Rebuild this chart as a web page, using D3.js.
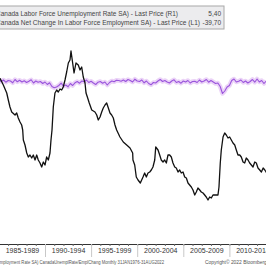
<!DOCTYPE html>
<html><head><meta charset="utf-8">
<script src="https://cdn.jsdelivr.net/npm/d3@7"></script>
<style>html,body{margin:0;padding:0;background:#fff;overflow:hidden}svg{display:block}</style>
</head><body>
<script>
// ---- data ----
const unempYears = [1985.12,1985.48,1985.85,1986.02,1986.20,1986.39,1986.75,1986.93,1987.10,1987.29,1987.47,1987.58,1987.65,1987.83,1988.02,1988.19,1988.37,1988.56,1988.73,1988.92,1989.10,1989.27,1989.46,1989.64,1989.82,1990.00,1990.18,1990.36,1990.54,1990.65,1990.76,1990.90,1991.08,1991.27,1991.44,1991.63,1991.81,1991.98,1992.17,1992.35,1992.53,1992.71,1992.82,1993.00,1993.15,1993.36,1993.61,1993.80,1993.98,1994.15,1994.34,1994.45,1994.63,1994.80,1995.07,1995.42,1995.61,1995.78,1995.97,1996.15,1996.32,1996.51,1996.69,1996.87,1997.05,1997.23,1997.41,1997.59,1997.77,1998.13,1998.49,1998.86,1999.22,1999.51,1999.54,1999.73,1999.90,2000.09,2000.34,2000.63,2000.81,2000.99,2001.17,2001.36,2001.53,2001.71,2001.90,2002.01,2002.26,2002.44,2002.61,2002.80,2002.98,2003.16,2003.34,2003.52,2003.70,2003.88,2004.07,2004.24,2004.43,2004.61,2004.78,2004.97,2005.15,2005.33,2005.51,2005.69,2005.87,2006.05,2006.24,2006.41,2006.59,2006.78,2006.95,2007.14,2007.32,2007.49,2007.68,2007.86,2008.04,2008.22,2008.41,2008.58,2008.76,2008.87,2009.01,2009.12,2009.31,2009.49,2009.66,2009.85,2010.03,2010.21,2010.39,2010.58,2010.75,2010.93,2011.12,2011.29,2011.48,2011.66,2011.83,2012.02,2012.20,2012.38,2012.56,2012.75,2012.92,2013.10,2013.29,2013.47,2013.66,2013.84,2013.98,2014.15];
const unempRate = [10.97,10.70,10.38,10.10,9.82,9.62,9.50,9.58,9.38,9.22,9.10,8.90,8.50,8.30,7.98,7.82,7.90,7.78,7.90,7.70,7.90,7.70,7.58,7.42,7.62,7.50,7.82,7.70,7.98,8.50,8.90,9.82,10.38,10.50,10.42,10.54,10.50,10.62,10.90,11.22,11.58,11.70,12.06,11.58,11.18,11.58,11.50,11.30,11.42,11.02,10.78,10.38,10.18,9.98,9.70,9.62,9.50,9.30,9.42,9.62,9.78,9.90,9.98,9.78,9.58,9.50,9.38,9.10,8.90,8.62,8.42,8.30,8.18,7.98,7.70,7.50,7.02,6.90,6.78,7.02,7.18,7.02,7.18,7.22,7.30,7.42,7.70,8.22,8.10,7.90,7.70,7.62,7.70,7.58,7.90,7.90,7.82,7.58,7.42,7.38,7.22,7.30,7.18,7.22,7.02,6.98,6.78,6.70,6.62,6.50,6.30,6.42,6.58,6.50,6.42,6.38,6.30,6.22,6.10,6.22,6.18,6.30,6.30,6.30,6.30,6.62,7.58,8.10,8.62,8.78,8.70,8.58,8.62,8.50,8.38,8.30,8.10,7.90,7.90,7.82,7.62,7.58,7.78,7.70,7.58,7.50,7.42,7.62,7.58,7.38,7.30,7.22,7.38,7.30,7.22,7.10];

const empYears = [1985.00,1985.25,1985.50,1985.75,1986.00,1986.25,1986.50,1986.75,1987.00,1987.25,1987.50,1987.75,1988.00,1988.25,1988.50,1988.75,1989.00,1989.25,1989.50,1989.75,1990.00,1990.25,1990.50,1990.75,1991.00,1991.25,1991.50,1991.75,1992.00,1992.25,1992.50,1992.75,1993.00,1993.25,1993.50,1993.75,1994.00,1994.25,1994.50,1994.75,1995.00,1995.25,1995.50,1995.75,1996.00,1996.25,1996.50,1996.75,1997.00,1997.25,1997.50,1997.75,1998.00,1998.25,1998.50,1998.75,1999.00,1999.25,1999.50,1999.75,2000.00,2000.25,2000.50,2000.75,2001.00,2001.25,2001.50,2001.75,2002.00,2002.25,2002.50,2002.75,2003.00,2003.25,2003.50,2003.75,2004.00,2004.25,2004.50,2004.75,2005.00,2005.25,2005.50,2005.75,2006.00,2006.25,2006.50,2006.75,2007.00,2007.25,2007.50,2007.75,2008.00,2008.25,2008.50,2008.75,2009.00,2009.25,2009.50,2009.75,2010.00,2010.25,2010.50,2010.75,2011.00,2011.25,2011.50,2011.75,2012.00,2012.25,2012.50,2012.75,2013.00,2013.25,2013.50,2013.75,2014.00];
const empChange = [45,25,40,18,35,30,12,45,22,38,20,32,15,28,42,10,30,18,25,5,20,-5,12,-25,-38,-30,-15,8,-22,-10,-28,5,-15,12,25,8,30,22,40,15,28,10,-5,18,25,8,20,-10,15,30,22,38,35,28,40,25,45,35,20,48,30,25,40,12,30,5,-8,15,10,30,45,25,35,20,10,30,42,15,25,8,30,20,35,10,25,28,15,40,20,30,45,18,35,20,5,10,-25,-95,-70,-30,-15,35,50,20,28,40,15,30,10,25,45,18,50,20,35,5,30,15];

const periodMid = [1987.5,1992.5,1997.5,2002.5,2007.5,2012.5];
const periodLabels = ["1985-1989","1990-1994","1995-1999","2000-2004","2005-2009","2010-2014"];
const majorYears = [1985,1990,1995,2000,2005,2010,2015];
const legendNames = ["Canada Labor Force Unemployment Rate SA) - Last Price (R1)","Canada Net Change In Labor Force Employment SA) - Last Price (L1)"];
const legendValues = ["5,40","-39,70"];

// ---- drawing ----
const W = 266, H = 266;
const svg = d3.select("body").append("svg").attr("width", W).attr("height", H)
  .style("font-family", "'Liberation Sans', Arial, sans-serif");

const x = d3.scaleLinear().domain([1985, 2015]).range([-1.1, 275.5]);
const yR = d3.scaleLinear().domain([4, 14]).range([252.5, 2.5]);
const yL = d3.scaleLinear().domain([-1000, 1000]).range([184, -16]);

svg.append("defs").append("clipPath").attr("id", "plot")
  .append("rect").attr("x", 0).attr("y", 30).attr("width", W).attr("height", 213);

const g = svg.append("g").attr("clip-path", "url(#plot)");

const lineL = d3.line().x((d, i) => x(empYears[i])).y(d => yL(d));
g.append("path").datum(empChange).attr("d", lineL)
  .attr("fill", "none").attr("stroke", "#ebd3f7").attr("stroke-width", 4.5).attr("stroke-linejoin", "round");
g.append("path").datum(empChange).attr("d", lineL)
  .attr("fill", "none").attr("stroke", "#9a55dc").attr("stroke-width", 1.1).attr("stroke-linejoin", "round");

const lineR = d3.line().x((d, i) => x(unempYears[i])).y(d => yR(d));
g.append("path").datum(unempRate).attr("d", lineR)
  .attr("fill", "none").attr("stroke", "#111").attr("stroke-width", 1.3).attr("stroke-linejoin", "round");

// x axis
const axisY = 244;
const minor = svg.append("g").attr("transform", `translate(0,${axisY})`)
  .call(d3.axisBottom(x).tickValues(d3.range(1985, 2015)).tickSize(2).tickSizeOuter(0).tickFormat(""));
minor.select(".domain").attr("stroke", "#333");
minor.selectAll(".tick line").attr("stroke", "#666");

const major = svg.append("g").attr("transform", `translate(0,${axisY})`)
  .call(d3.axisBottom(x).tickValues(majorYears).tickSize(13).tickSizeOuter(0).tickFormat(""));
major.select(".domain").remove();
major.selectAll(".tick line").attr("stroke", "#c8c8c8");

const lab = svg.append("g").attr("transform", `translate(0,${axisY})`)
  .call(d3.axisBottom(x).tickValues(periodMid).tickSize(0).tickPadding(4)
    .tickFormat((d, i) => periodLabels[i]));
lab.select(".domain").remove();
lab.selectAll("text").attr("font-size", 7).attr("fill", "#333")
  .attr("font-family", "'Liberation Sans', Arial, sans-serif");

// legend
const leg = svg.append("g");
leg.append("rect").attr("x", -2).attr("y", 6).attr("width", 226).attr("height", 23)
  .attr("fill", "#ececee").attr("stroke", "#a8a8a8").attr("stroke-width", 1);
const legLen = [182, 204];
legendNames.forEach((t, i) => {
  leg.append("text").attr("x", -4).attr("y", 16 + i * 9).text(t)
    .attr("font-size", 6.5).attr("fill", "#444")
    .attr("textLength", legLen[i]).attr("lengthAdjust", "spacingAndGlyphs");
  leg.append("text").attr("x", 221).attr("y", 16 + i * 9).text(legendValues[i])
    .attr("text-anchor", "end").attr("font-size", 6.5).attr("fill", "#444");
});

// footer
svg.append("text").attr("x", -8).attr("y", 264)
  .text("Unemployment Rate SA) CanadaUnemplRate/EmplChang   Monthly 31JAN1976-31AUG2022")
  .attr("font-size", 4.6).attr("fill", "#555").attr("textLength", 172).attr("lengthAdjust", "spacingAndGlyphs");
svg.append("text").attr("x", 205).attr("y", 264)
  .text("Copyright\u00A9 2022 Bloomberg Finance L.P.")
  .attr("font-size", 4.6).attr("fill", "#555").attr("textLength", 90).attr("lengthAdjust", "spacingAndGlyphs");
</script>
</body></html>
